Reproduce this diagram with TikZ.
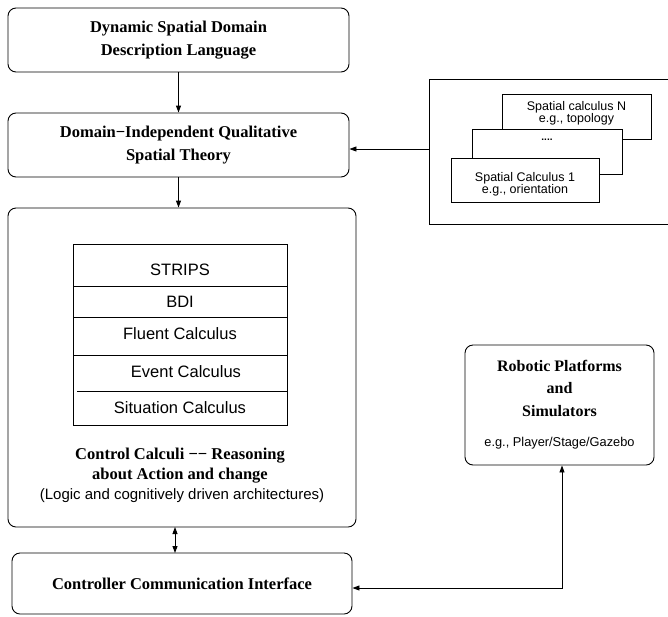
\documentclass[tikz,border=0pt]{standalone}
\usepackage{fontspec}
\setmainfont{Liberation Serif}
\setsansfont{Liberation Sans}
\usetikzlibrary{arrows.meta,shadows}
\begin{document}
\begin{tikzpicture}[x=1pt,y=-1pt,
  rbox/.style={draw, rounded corners=8pt, line width=0.9pt, inner sep=0pt, align=center},
  sbox/.style={draw, fill=white, line width=0.7pt, inner sep=0pt, align=center,
     font=\sffamily\fontsize{12.5}{12}\selectfont,
     drop shadow={shadow xshift=1.2pt, shadow yshift=-1.2pt, fill=gray!70, opacity=1}},
  bold/.style={font=\bfseries\fontsize{16.5}{23}\selectfont, align=center},
  sans/.style={font=\sffamily\fontsize{16.5}{18}\selectfont},
  arr/.style={line width=0.9pt, -{Triangle[length=7pt,width=5pt]}},
  darr/.style={line width=0.9pt, {Triangle[length=7pt,width=5pt]}-{Triangle[length=7pt,width=5pt]}}]
\useasboundingbox (0,0) rectangle (668,616);

% main boxes
\node[rbox, bold, minimum width=341pt, minimum height=64pt] (b1) at (178.5,40)
  {Dynamic Spatial Domain\\Description Language};
\node[rbox, bold, minimum width=341pt, minimum height=64pt] (b2) at (178.5,145)
  {Domain−Independent Qualitative\\Spatial Theory};
\node[rbox, minimum width=348pt, minimum height=319pt] (b3) at (182,367.5) {};
\node[rbox, bold, minimum width=340pt, minimum height=61pt] (b4) at (182,583.5)
  {Controller Communication Interface};
\node[rbox, minimum width=189pt, minimum height=120pt] (rob) at (559.5,405) {};

% big right box (extends past the right edge)
\node[draw, line width=0.9pt, minimum width=241pt, minimum height=145pt, inner sep=0pt] (sp) at (549.5,151.5) {};

% stacked calculi
\node[sbox, minimum width=149pt, minimum height=45pt] (cN) at (576.5,116.5) {};
\node[font=\sffamily\fontsize{12.5}{12}\selectfont, align=center] (tN) at (576.5,113) {Spatial calculus N\\e.g., topology};
\node[sbox, minimum width=150pt, minimum height=45pt] (cM) at (547,151.5) {};
\node[font=\sffamily\bfseries\fontsize{10}{12}\selectfont] (tM) at (547,140) {....};
\node[sbox, minimum width=148pt, minimum height=44pt] (c1) at (525,180) {};
\node[font=\sffamily\fontsize{12.5}{12}\selectfont, align=center] (t1) at (525,184) {Spatial Calculus 1\\e.g., orientation};

% inner table
\node[draw, line width=0.7pt, minimum width=214pt, minimum height=181pt, inner sep=0pt] (tab) at (180,334.5) {};
\draw[line width=0.7pt] (73,286) -- (287,286);
\draw[line width=0.7pt] (73,317) -- (287,317);
\draw[line width=0.7pt] (73,355) -- (287,355);
\draw[line width=0.7pt] (77,391) -- (287,391);
\node[sans] (strips) at (180,270) {STRIPS};
\node[sans] (bdi) at (180,302) {BDI};
\node[sans] (flu) at (180,334) {Fluent Calculus};
\node[sans] (evt) at (186,372) {Event Calculus};
\node[sans] (sit) at (180,408) {Situation Calculus};

% box 3 labels
\node[bold, font=\bfseries\fontsize{16.5}{20}\selectfont] (cc) at (180,466) {Control Calculi −− Reasoning\\about Action and change};
\node[font=\sffamily\fontsize{15}{18}\selectfont] (lg) at (182,496) {(Logic and cognitively driven architectures)};

% robot box labels
\node[font=\bfseries\fontsize{16}{22.5}\selectfont, align=center] (rt) at (559.5,388) {Robotic Platforms\\and\\Simulators};
\node[font=\sffamily\fontsize{12.8}{14}\selectfont] (rg) at (559.5,443) {e.g., Player/Stage/Gazebo};

% connectors
\draw[arr] (b1.south) -- (b2.north);
\draw[arr] (b2.south) -- (b2.south |- b3.north);
\draw[arr] (sp.west |- 0,149) -- (b2.east |- 0,149);
\draw[darr] (175,527) -- (175,553);
\coordinate (cor) at (562,588);
\draw[darr] (b4.east |- cor) -- (cor) -- (cor |- rob.south);
\end{tikzpicture}
\end{document}
